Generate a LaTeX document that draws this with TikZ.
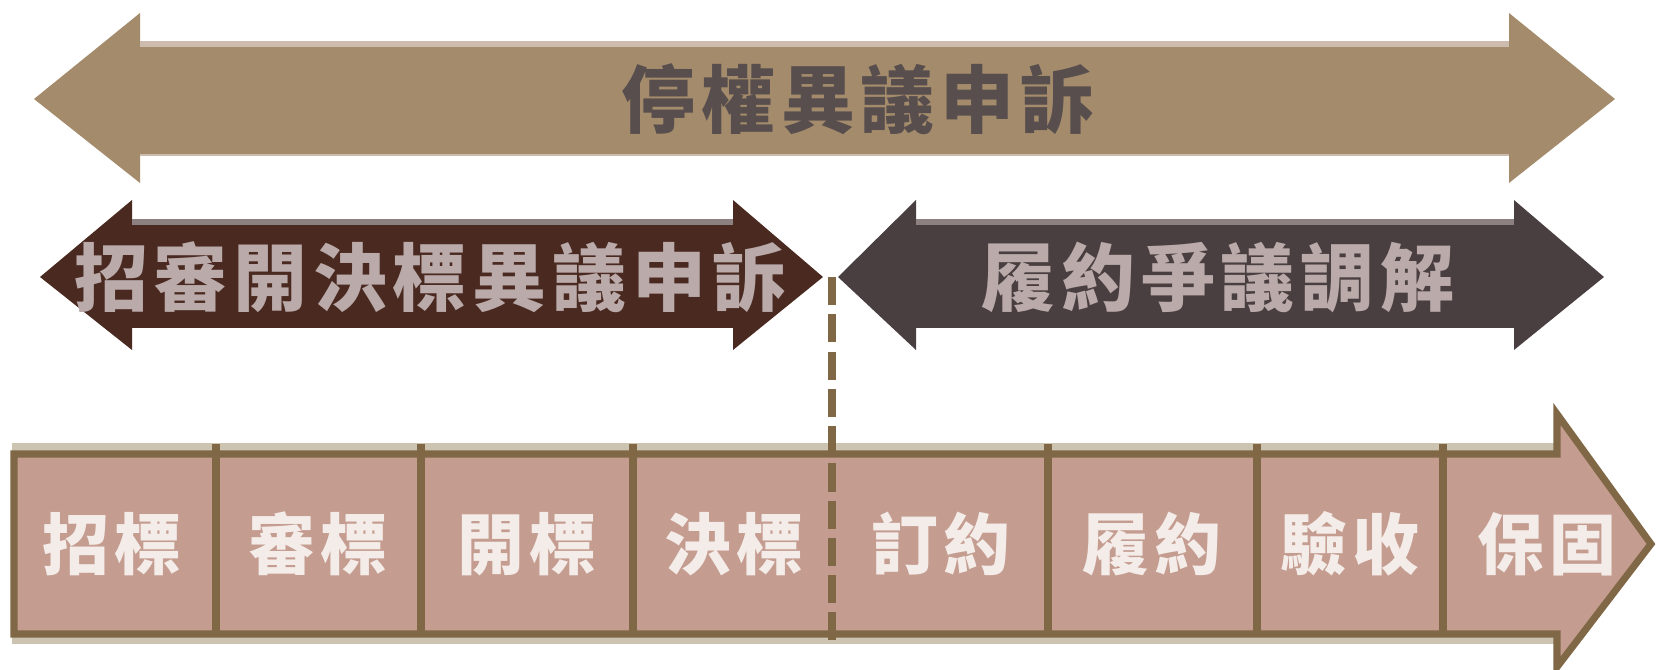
\documentclass[tikz,border=0pt]{standalone}
\usepackage{fontspec}
\usepackage{xcolor}
\usepackage{tikz}
\newfontfamily\cjk{Noto Sans CJK TC}
\newfontfamily\cjksp{Noto Sans CJK TC}[LetterSpace=8]

\definecolor{tanfill}{RGB}{163,139,107}
\definecolor{tanedge}{RGB}{205,187,174}
\definecolor{tanink}{RGB}{88,78,78}
\definecolor{brownfill}{RGB}{74,42,32}
\definecolor{greyfill}{RGB}{74,63,64}
\definecolor{midedge}{RGB}{140,128,128}
\definecolor{midink}{RGB}{186,170,170}
\definecolor{cellfill}{RGB}{196,156,144}
\definecolor{cellline}{RGB}{128,104,70}
\definecolor{cellshade}{RGB}{204,196,176}
\definecolor{cellink}{RGB}{244,236,232}

\begin{document}
\begin{tikzpicture}[x=0.01cm,y=-0.01cm,
    bigtext/.style={font=\cjksp\bfseries\fontsize{21}{24}\selectfont},
    celltext/.style={font=\cjksp\bfseries\fontsize{19}{22}\selectfont,text=cellink},
    divider/.style={draw=cellline,line width=2pt}]
  \useasboundingbox (0,0) rectangle (1656,670);

    % top arrow
  \fill[tanfill] (34,99) -- (140,13) -- (140,44) -- (1509,44) -- (1509,13)
    -- (1615,99) -- (1509,183) -- (1509,155) -- (140,155) -- (140,183) -- cycle;
  \draw[tanedge,line width=1.5pt] (140,44) -- (1509,44);
  \draw[tanedge,line width=0.8pt] (140,155) -- (1509,155);
  \node[bigtext,text=tanink] (T) at (858,99) {停權異議申訴};

    % middle arrows
  \fill[brownfill] (40,277) -- (132,200) -- (132,222) -- (733,222) -- (733,200)
    -- (823,277) -- (733,350) -- (733,328) -- (132,328) -- (132,350) -- cycle;
  \fill[greyfill] (838,277) -- (916,200) -- (916,222) -- (1514,222) -- (1514,200)
    -- (1604,277) -- (1514,350) -- (1514,328) -- (916,328) -- (916,350) -- cycle;
  \draw[midedge,line width=1.5pt] (132,222) -- (733,222);
  \draw[midedge,line width=1.5pt] (916,222) -- (1514,222);
  \node[bigtext,text=midink] (L) at (430,277) {招審開決標異議申訴};
  \node[bigtext,text=midink] (R) at (1218,277) {履約爭議調解};

    % bottom arrow
  \draw[cellshade,line width=2pt] (12,447) -- (1557,447);
  \draw[cellshade,line width=2pt] (12,640) -- (1557,640);
  \filldraw[fill=cellfill,draw=cellline,line width=2pt] (14,454) -- (1557,454)
    -- (1557,414) -- (1651,544) -- (1557,667) -- (1557,634) -- (14,634) -- cycle;
  \draw[divider] (216,444) -- (216,634);
  \draw[divider] (421,444) -- (421,634);
  \draw[divider] (633,444) -- (633,634);
  \draw[divider] (1048,444) -- (1048,634);
  \draw[divider] (1257,444) -- (1257,634);
  \draw[divider] (1443,444) -- (1443,634);

  \node[celltext] (c1) at (112,544) {招標};
  \node[celltext] (c2) at (318,544) {審標};
  \node[celltext] (c3) at (527,544) {開標};
  \node[celltext] (c4) at (734,544) {決標};
  \node[celltext] (c5) at (941,544) {訂約};
  \node[celltext] (c6) at (1152,544) {履約};
  \node[celltext] (c7) at (1350,544) {驗收};
  \node[celltext] (c8) at (1547,544) {保固};

    % split line
  \coordinate (d1) at (832,277);
  \coordinate (d2) at (832,640);
  \draw[cellline,line width=2.3pt,dash pattern=on 8pt off 2.6pt] (d1) -- (d2);
\end{tikzpicture}
\end{document}
